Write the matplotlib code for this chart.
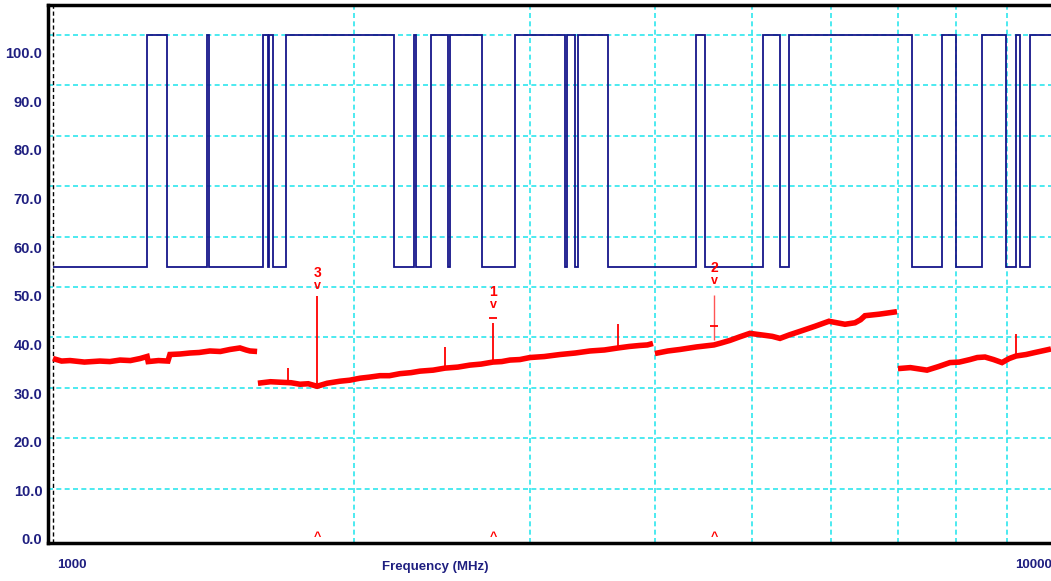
import numpy as np
import matplotlib
matplotlib.use("Agg")
import matplotlib.pyplot as plt

plt.rcParams["font.family"] = ["Liberation Sans", "DejaVu Sans"]

# limit line (blue): switching frequencies in MHz, starts at the low level
limit_edges = [1000, 1242, 1300, 1426, 1432, 1622, 1641, 1644, 1660, 1710,
               2193, 2296, 2307, 2388, 2483, 2495, 2685, 2897, 3251, 3266,
               3327, 3350, 3589, 4395, 4487, 5129, 5333, 5445, 7228, 7745,
               7998, 8492, 8974, 9183, 9268, 9484, 9954]
limit_low = 54.0
limit_high = 100.0

# measured trace (red), four sweep segments (MHz, dB)
seg1_f = [1000, 1020, 1040, 1075, 1114, 1140, 1167, 1195, 1222, 1242, 1245, 1275, 1303,
          1309, 1340, 1371, 1400, 1435, 1470, 1503, 1538, 1560, 1574, 1600]
seg1_v = [35.8, 35.3, 35.4, 35.1, 35.3, 35.2, 35.5, 35.4, 35.8, 36.2, 35.2, 35.4, 35.3,
          36.6, 36.7, 36.9, 37.0, 37.3, 37.2, 37.6, 37.9, 37.5, 37.3, 37.2]
seg2_f = [1603, 1650, 1687, 1730, 1766, 1800, 1837, 1880, 1936, 1980, 2028, 2070, 2123,
          2170, 2223, 2280, 2328, 2400, 2466, 2540, 2612, 2680, 2754, 2810, 2864, 2930,
          2999, 3100, 3214, 3330, 3443, 3560, 3673, 3770, 3864, 3930, 3981]
seg2_v = [30.9, 31.2, 31.1, 31.0, 30.7, 30.8, 30.3, 30.9, 31.3, 31.5, 31.9, 32.1, 32.4,
          32.4, 32.8, 33.0, 33.3, 33.5, 33.9, 34.1, 34.5, 34.7, 35.1, 35.2, 35.5, 35.6,
          36.0, 36.2, 36.6, 36.9, 37.3, 37.5, 37.9, 38.2, 38.4, 38.5, 38.8]
seg3_f = [3999, 4120, 4236, 4400, 4581, 4660, 4753, 4860, 4977, 5060, 5152, 5240, 5333,
          5450, 5585, 5780, 5970, 6080, 6194, 6339, 6420, 6486, 6700, 6982]
seg3_v = [36.8, 37.3, 37.6, 38.1, 38.5, 38.9, 39.4, 40.1, 40.8, 40.6, 40.4, 40.2, 39.8,
          40.5, 41.2, 42.2, 43.2, 42.9, 42.6, 42.9, 43.5, 44.3, 44.6, 45.1]
seg4_f = [6998, 7200, 7482, 7680, 7888, 8060, 8260, 8400, 8551, 8720, 8892, 9040, 9183,
          9400, 9594, 9800, 9954]
seg4_v = [33.8, 34.0, 33.5, 34.2, 35.0, 35.1, 35.6, 36.0, 36.1, 35.6, 35.0, 35.8, 36.3,
          36.6, 37.0, 37.4, 37.7]

# narrow spurs on the trace
spur_f = [1718, 1837, 2466, 2754, 3673, 9183]
spur_peak = [34.0, 48.2, 38.0, 42.8, 42.6, 40.7]
spur_base = [31.0, 30.4, 33.9, 35.1, 37.9, 36.3]

# markers
marker_names = ["3", "1", "2"]
marker_f = [1837, 2754, 4581]
marker_level = [49.6, 45.9, 50.6]

y_ticks = [0, 10, 20, 30, 40, 50, 60, 70, 80, 90, 100]
x_grid = [2000, 3000, 4000, 5000, 6000, 7000, 8000, 9000]
x_labels = ["1000", "10000"]
x_label_f = [1000, 10000]

navy = "#1f1f80"
cyan = "#2ee6ee"

fig = plt.figure(figsize=(10.51, 5.81), dpi=100)
ax = fig.add_axes([48 / 1051, 38 / 581, 1003 / 1051, 538 / 581])
ax.set_xscale("log")
ax.set_xlim(988.6, 9954)
ax.set_ylim(-0.8, 105.95)

# grid
ax.set_yticks(y_ticks, minor=True)
ax.set_xticks(x_grid, minor=True)
ax.grid(which="minor", color=cyan, linestyle=(0, (3, 2)), linewidth=1.2)
ax.axvline(1000, color="black", linestyle=(0, (3, 2)), linewidth=1.0)
ax.tick_params(which="both", length=0)

# y labels sit a little off the grid lines, as in the original software
ax.set_yticks([v * 0.965 for v in y_ticks], ["%.1f" % v for v in y_ticks])
ax.set_xticks([])
for lab in ax.get_yticklabels():
    lab.set_fontweight("bold")
    lab.set_color(navy)
    lab.set_fontsize(10.5)
ax.tick_params(axis="y", pad=4)

for name, f, dx, ha in zip(x_labels, x_label_f, [19, -1], ["center", "right"]):
    ax.annotate(name, xy=(f, 0), xycoords=("data", "axes fraction"),
                xytext=(dx, -22), textcoords="offset pixels", ha=ha, va="center",
                fontsize=9.5, fontweight="bold", color=navy, annotation_clip=False)
ax.text(0.386, -0.045, "Frequency (MHz)", transform=ax.transAxes, ha="center",
        va="center", fontsize=9.5, fontweight="bold", color=navy)

# limit line
levels = [limit_low if i % 2 == 0 else limit_high for i in range(len(limit_edges) - 1)]
ax.stairs(levels, limit_edges, baseline=None, color="#16168a", linewidth=1.3, zorder=3)

# trace
for f, v in [(seg1_f, seg1_v), (seg2_f, seg2_v), (seg3_f, seg3_v), (seg4_f, seg4_v)]:
    ax.plot(f, v, color="red", linewidth=4.0, solid_joinstyle="miter",
            solid_capstyle="butt", zorder=4)
ax.vlines(spur_f, spur_base, spur_peak, color="red", linewidth=1.3, zorder=4)

# markers
for name, f, lv in zip(marker_names, marker_f, marker_level):
    ax.text(f, lv + 0.6, "v", ha="center", va="center", color="red",
            fontsize=9, fontweight="bold", zorder=5)
    ax.text(f, lv + 3.2, name, ha="center", va="center", color="red",
            fontsize=10, fontweight="bold", zorder=5)
    ax.text(f, 0.3, "^", ha="center", va="center", color="red",
            fontsize=9, fontweight="bold", zorder=5)
ax.vlines([marker_f[2]], [39.5], [48.4], color="#ff5555", linewidth=1.0, zorder=4)
ax.plot([marker_f[1], marker_f[2]], [43.8, 42.3], linestyle="none", marker="_",
        markersize=6, color="red", markeredgewidth=1.3, zorder=5)

for side in ["left", "bottom", "top"]:
    ax.spines[side].set_linewidth(2.5)
    ax.spines[side].set_color("black")
ax.spines["right"].set_visible(False)

fig.savefig("out.png", dpi=100)
